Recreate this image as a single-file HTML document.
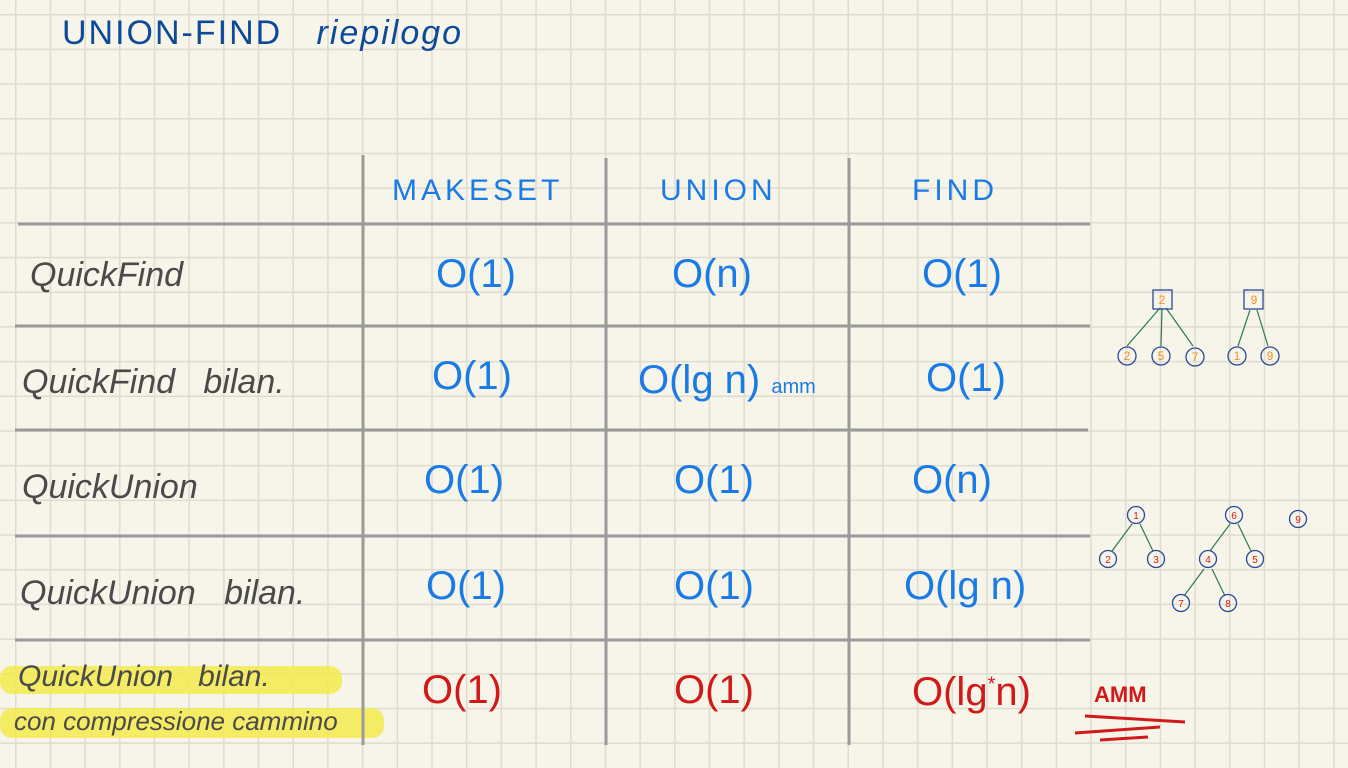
<!DOCTYPE html>
<html><head><meta charset="utf-8"><style>
html,body{margin:0;padding:0}
body{width:1348px;height:768px;position:relative;overflow:hidden;background-color:#f7f5ea;
background-image:linear-gradient(to right,#dedbcf 1.5px,transparent 1.5px),linear-gradient(to bottom,#dedbcf 1.5px,transparent 1.5px);
background-size:34.7px 34.7px;background-position:15px 14px;font-family:"Liberation Sans",sans-serif}
.t{position:absolute;white-space:nowrap;line-height:1}
.h{color:#1a7be6;font-size:30px;letter-spacing:4px}
.r{color:#4a4a4a;font-size:34px;font-style:italic}
.c{color:#1a7be6;font-size:40px}
.red{color:#d11919}
.hl{position:absolute;background:#f3ea4e;border-radius:12px;opacity:.85}
svg{position:absolute;left:0;top:0}
</style></head><body>
<div class="t" style="left:62px;top:16px;color:#0d4a9a;font-size:34px;letter-spacing:2px">UNION-FIND&nbsp;&nbsp;&nbsp;<i>riepilogo</i></div>
<div class="hl" style="left:0;top:666px;width:342px;height:28px"></div>
<div class="hl" style="left:0;top:708px;width:384px;height:30px"></div>
<svg width="1348" height="768">
<g stroke="#9a9a9a" stroke-width="3">
<line x1="363" y1="155" x2="363" y2="745"/><line x1="606" y1="158" x2="606" y2="745"/><line x1="849" y1="158" x2="849" y2="745"/>
<line x1="18" y1="224" x2="1090" y2="224"/><line x1="15" y1="326" x2="1090" y2="326"/><line x1="15" y1="430" x2="1088" y2="430"/><line x1="15" y1="536" x2="1090" y2="536"/><line x1="15" y1="640" x2="1090" y2="640"/>
</g>
<g stroke="#d11919" stroke-width="3" fill="none"><line x1="1085" y1="716" x2="1185" y2="722"/><line x1="1075" y1="733" x2="1160" y2="727"/><line x1="1100" y1="740" x2="1148" y2="737"/></g>
<g stroke="#2e7a4a" stroke-width="1.2">
<line x1="1127" y1="346" x2="1160" y2="308"/><line x1="1161" y1="346" x2="1162" y2="308"/><line x1="1193" y1="346" x2="1166" y2="308"/>
<line x1="1238" y1="346" x2="1250" y2="310"/><line x1="1268" y1="346" x2="1257" y2="310"/>
<line x1="1112" y1="551" x2="1132" y2="524"/><line x1="1153" y1="551" x2="1140" y2="524"/>
<line x1="1210" y1="551" x2="1230" y2="524"/><line x1="1251" y1="551" x2="1238" y2="524"/>
<line x1="1184" y1="596" x2="1204" y2="569"/><line x1="1225" y1="596" x2="1212" y2="569"/>
</g>
<g fill="none" stroke="#2a4a9a" stroke-width="1.3">
<rect x="1153" y="290" width="19" height="19"/><rect x="1244" y="290" width="19" height="19"/>
<circle cx="1127" cy="356" r="9"/><circle cx="1161" cy="356" r="9"/><circle cx="1195" cy="357" r="9"/><circle cx="1237" cy="356" r="9"/><circle cx="1270" cy="356" r="9"/>
<circle cx="1136" cy="515" r="8.5"/><circle cx="1108" cy="559" r="8.5"/><circle cx="1156" cy="559" r="8.5"/>
<circle cx="1234" cy="515" r="8.5"/><circle cx="1208" cy="559" r="8.5"/><circle cx="1255" cy="559" r="8.5"/><circle cx="1181" cy="603" r="8.5"/><circle cx="1228" cy="603" r="8.5"/><circle cx="1298" cy="519" r="8.5"/>
</g>
<g font-family="Liberation Sans" font-size="12" text-anchor="middle" fill="#f0902a">
<text x="1162" y="304">2</text><text x="1254" y="304">9</text>
<text x="1127" y="360">2</text><text x="1161" y="360">5</text><text x="1195" y="361">7</text><text x="1237" y="360">1</text><text x="1270" y="360">9</text>
</g>
<g font-family="Liberation Sans" font-size="10" text-anchor="middle" fill="#d11919">
<text x="1136" y="519">1</text><text x="1108" y="563">2</text><text x="1156" y="563">3</text>
<text x="1234" y="519">6</text><text x="1208" y="563">4</text><text x="1255" y="563">5</text><text x="1181" y="607">7</text><text x="1228" y="607">8</text><text x="1298" y="523">9</text>
</g>
</svg>
<div class="t h" style="left:392px;top:176px">MAKESET</div>
<div class="t h" style="left:660px;top:176px">UNION</div>
<div class="t h" style="left:912px;top:176px">FIND</div>

<div class="t r" style="left:30px;top:258px">QuickFind</div>
<div class="t r" style="left:22px;top:365px">QuickFind&nbsp;&nbsp; bilan.</div>
<div class="t r" style="left:22px;top:470px">QuickUnion</div>
<div class="t r" style="left:20px;top:576px">QuickUnion&nbsp;&nbsp; bilan.</div>
<div class="t r" style="left:18px;top:662px;font-size:30px">QuickUnion&nbsp;&nbsp; bilan.</div>
<div class="t r" style="left:14px;top:708px;font-size:26px">con compressione cammino</div>

<div class="t c" style="left:436px;top:254px">O(1)</div>
<div class="t c" style="left:672px;top:254px">O(n)</div>
<div class="t c" style="left:922px;top:254px">O(1)</div>
<div class="t c" style="left:432px;top:356px">O(1)</div>
<div class="t c" style="left:638px;top:360px">O(lg n) <span style="font-size:20px">amm</span></div>
<div class="t c" style="left:926px;top:358px">O(1)</div>
<div class="t c" style="left:424px;top:460px">O(1)</div>
<div class="t c" style="left:674px;top:460px">O(1)</div>
<div class="t c" style="left:912px;top:460px">O(n)</div>
<div class="t c" style="left:426px;top:566px">O(1)</div>
<div class="t c" style="left:674px;top:566px">O(1)</div>
<div class="t c" style="left:904px;top:566px">O(lg n)</div>
<div class="t c red" style="left:422px;top:670px">O(1)</div>
<div class="t c red" style="left:674px;top:670px">O(1)</div>
<div class="t c red" style="left:912px;top:672px">O(lg<sup style="font-size:20px">*</sup>n)</div>
<div class="t red" style="left:1094px;top:684px;font-size:22px;font-weight:bold">AMM</div>
</body></html>
